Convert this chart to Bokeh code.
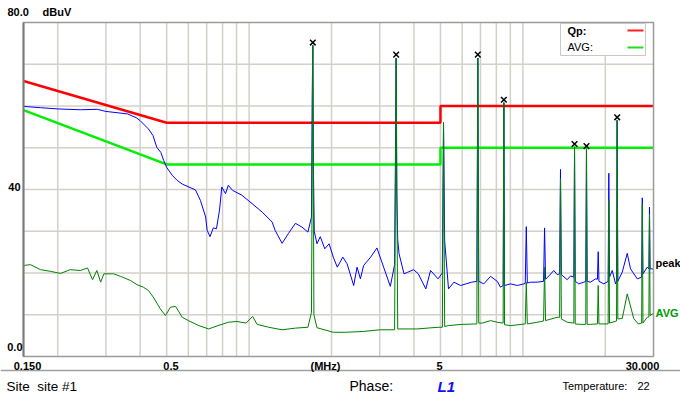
from bokeh.plotting import figure
from bokeh.models import Label
from bokeh.embed import file_html
from bokeh.resources import INLINE

# ---------------- data ----------------
peak_freq = [0.150, 0.173, 0.200, 0.242, 0.279, 0.300, 0.360, 0.387, 0.400, 0.429,
             0.446, 0.460, 0.476, 0.488, 0.500, 0.524, 0.546, 0.570, 0.637, 0.664,
             0.694, 0.703, 0.720, 0.740, 0.760, 0.780, 0.795, 0.820, 0.840, 0.870,
             0.943, 1.026, 1.116, 1.214, 1.245, 1.320, 1.390, 1.476, 1.560, 1.640,
             1.690, 1.700, 1.709, 1.718, 1.730, 1.770, 1.820, 1.890, 1.960, 2.030,
             2.100, 2.200, 2.280, 2.410, 2.480, 2.550, 2.620, 2.780, 2.930, 3.100,
             3.280, 3.400, 3.430, 3.445, 3.460, 3.490, 3.530, 3.680, 3.800, 3.990,
             4.150, 4.420, 4.600, 4.900, 5.080, 5.130, 5.180, 5.350, 5.600, 5.920,
             6.200, 6.500, 6.790, 6.845, 6.900, 7.200, 7.620, 8.060, 8.280, 8.470,
             8.520, 8.570, 9.010, 9.540, 10.08, 10.20, 10.29, 10.38, 10.66, 11.28,
             11.90, 12.00, 12.10, 12.44, 12.97, 13.35, 13.62, 13.72, 13.82, 14.52,
             14.93, 15.35, 15.44, 15.53, 16.00, 16.70, 16.97, 17.07, 17.17, 17.66,
             18.42, 18.72, 18.84, 18.96, 19.76, 20.48, 20.60, 20.72, 21.20, 21.80,
             21.98, 22.10, 22.22, 23.06, 24.05, 24.72, 26.16, 27.15, 27.30, 27.45,
             28.45, 28.85, 29.00, 29.15, 29.67, 30.00]
peak_level = [59.9, 59.6, 59.3, 59.1, 59.2, 58.7, 58.1, 57.2, 56.5, 54.5,
              52.9, 50.1, 48.9, 46.9, 45.3, 43.4, 42.2, 41.3, 39.9, 37.4,
              33.4, 30.2, 28.7, 30.8, 30.6, 35.1, 40.6, 39.0, 41.0, 39.8,
              38.6, 36.6, 34.6, 32.2, 30.2, 27.1, 29.4, 31.9, 31.0, 29.8,
              33.4, 62.0, 74.5, 45.0, 30.0, 27.0, 28.7, 25.8, 27.0, 23.8,
              21.4, 23.8, 22.2, 17.0, 21.4, 18.6, 21.8, 23.8, 26.0, 21.4,
              16.8, 22.0, 55.0, 71.5, 40.0, 28.0, 24.6, 19.8, 20.2, 20.8,
              19.8, 16.2, 20.6, 18.6, 20.0, 56.0, 27.7, 16.2, 17.8, 17.0,
              17.4, 17.8, 18.0, 71.5, 18.0, 17.4, 19.2, 18.0, 16.6, 17.0,
              60.8, 17.0, 17.4, 17.0, 17.4, 17.5, 31.1, 17.6, 17.8, 17.8,
              18.0, 30.8, 18.5, 19.3, 20.6, 19.6, 19.8, 44.8, 19.6, 18.4,
              19.3, 19.0, 50.2, 18.0, 17.4, 17.8, 18.0, 49.7, 18.0, 17.8,
              18.6, 18.5, 25.1, 18.0, 17.4, 18.0, 43.9, 19.0, 20.6, 17.4,
              18.0, 56.6, 18.0, 20.2, 24.7, 21.0, 18.6, 19.0, 38.0, 19.8,
              21.4, 21.0, 35.8, 21.0, 21.0, 20.8]

avg_freq = [0.150, 0.159, 0.173, 0.188, 0.205, 0.222, 0.242, 0.257, 0.268, 0.278,
            0.287, 0.295, 0.320, 0.339, 0.369, 0.390, 0.411, 0.429, 0.447, 0.474,
            0.495, 0.516, 0.539, 0.570, 0.600, 0.655, 0.712, 0.770, 0.840, 0.900,
            0.975, 1.030, 1.070, 1.180, 1.320, 1.476, 1.640, 1.690, 1.709, 1.725,
            1.770, 2.030, 2.250, 2.620, 3.000, 3.400, 3.445, 3.490, 4.100, 4.900,
            5.080, 5.130, 5.180, 5.350, 6.000, 6.790, 6.845, 6.900, 7.100, 7.620,
            8.060, 8.470, 8.520, 8.570, 9.010, 10.20, 10.29, 10.38, 11.28, 11.90,
            12.00, 12.10, 13.35, 13.62, 13.72, 13.82, 14.52, 15.35, 15.44, 15.53,
            16.20, 16.97, 17.07, 17.17, 17.66, 18.72, 18.84, 18.96, 19.76, 20.48,
            20.60, 20.72, 21.98, 22.10, 22.22, 23.06, 24.05, 25.40, 26.40, 27.15,
            27.30, 27.45, 28.45, 28.85, 29.00, 29.15, 29.67, 30.00]
avg_level = [21.8, 22.0, 20.8, 20.4, 19.9, 20.8, 20.6, 21.2, 18.4, 20.6,
             17.8, 19.8, 19.8, 19.2, 18.2, 17.2, 16.6, 15.8, 14.2, 11.4,
             9.8, 11.8, 12.0, 9.4, 8.6, 7.4, 6.6, 7.4, 8.2, 8.4,
             8.0, 9.6, 7.7, 7.0, 6.4, 6.8, 7.0, 10.6, 74.5, 10.0,
             6.9, 5.8, 5.8, 6.0, 6.4, 6.4, 71.5, 6.6, 6.6, 7.0,
             7.0, 56.0, 7.2, 7.4, 7.7, 7.8, 71.5, 8.0, 8.0, 8.6,
             8.2, 8.0, 60.8, 7.6, 7.4, 7.8, 17.8, 7.8, 8.2, 8.5,
             21.4, 8.6, 9.4, 9.4, 42.6, 9.0, 8.2, 8.0, 50.2, 7.8,
             7.7, 7.7, 49.7, 7.7, 7.7, 7.8, 17.0, 7.8, 7.8, 7.8,
             37.4, 8.0, 8.5, 56.6, 9.0, 9.1, 15.0, 9.1, 7.8, 8.0,
             36.6, 8.0, 9.4, 9.5, 34.0, 9.8, 10.2, 10.2]

qp_limit_freq = [0.15, 0.5, 5.0, 5.0, 30.0]
qp_limit_level = [66.0, 56.0, 56.0, 60.0, 60.0]
avg_limit_freq = [0.15, 0.5, 5.0, 5.0, 30.0]
avg_limit_level = [59.0, 46.0, 46.0, 50.0, 50.0]

marker_freq = [1.709, 3.445, 6.845, 8.52, 15.44, 17.07, 22.1]
marker_level = [75.2, 72.3, 72.3, 61.5, 50.9, 50.4, 57.3]

x_min, x_max = 0.15, 30.0
y_min, y_max = 0.0, 80.0
x_grid_ticks = [0.2, 0.3, 0.4, 0.5, 0.6, 0.7, 0.8, 0.9, 1, 2, 3, 4, 5, 6, 7, 8, 9, 10, 20]
y_grid_ticks = [10, 20, 30, 40, 50, 60, 70]

FONT = "Liberation Sans"

# frame covers the whole canvas; ranges are widened so that the plot box
# (0.15..30 MHz, 0..80 dBuV) sits where it sits in the reference
p = figure(width=680, height=395, x_axis_type="log",
           x_range=(0.12362, 37.64), y_range=(-9.341, 85.27),
           x_axis_location=None, y_axis_location=None,
           output_backend="svg", toolbar_location=None,
           min_border=0, outline_line_color=None,
           background_fill_color="white", border_fill_color="white")
p.grid.visible = False

# grid
p.segment(x0=x_grid_ticks, y0=[y_min] * len(x_grid_ticks), x1=x_grid_ticks,
          y1=[y_max] * len(x_grid_ticks), line_color="#d4d0c8", line_width=1.5)
p.segment(x0=[x_min] * len(y_grid_ticks), y0=y_grid_ticks, x1=[x_max] * len(y_grid_ticks),
          y1=y_grid_ticks, line_color="#d4d0c8", line_width=1.5)

# limits and traces
p.line(qp_limit_freq, qp_limit_level, line_color="#ff0000", line_width=2.5)
p.line(avg_limit_freq, avg_limit_level, line_color="#00ee00", line_width=2.5)
p.line(peak_freq, peak_level, line_color="#0000ff", line_width=1)
p.line(avg_freq, avg_level, line_color="#008000", line_width=1)
p.scatter(marker_freq, marker_level, marker="x", size=8, line_color="black", line_width=1.5)

# plot box border (left edge darker, as in the reference)
p.quad(left=[x_min], right=[x_max], bottom=[y_min], top=[y_max], fill_color=None,
       line_color="#9a9a9a", line_width=1.5)
p.segment(x0=[x_min], y0=[y_min], x1=[x_min], y1=[y_max], line_color="#7a7a7a", line_width=2)

# legend box
p.quad(left=[13.72], right=[28.04], bottom=[72.10], top=[79.76], fill_color="white",
       line_color="#c8c8c8", line_width=1)
p.segment(x0=[24.1], y0=[78.08], x1=[27.57], y1=[78.08], line_color="#ff2020", line_width=2)
p.segment(x0=[24.1], y0=[74.0], x1=[27.57], y1=[74.0], line_color="#20dd20", line_width=2)

# footer separator
p.segment(x0=[0.12362], y0=[-3.35], x1=[37.64], y1=[-3.35], line_color="#a0a0a0", line_width=1.5)


def lab(text, xo, y, align="left", size="11px", style="bold", color="black"):
    # x given as pixel offset from the 0.15 MHz edge of the plot box
    p.add_layout(Label(x=x_min, y=y, x_offset=xo, text=text, text_align=align,
                       text_baseline="middle", text_font=FONT, text_font_size=size,
                       text_font_style=style, text_color=color))


# y labels
lab("80.0", -16, 82.4)
lab("dBuV", 19, 82.4)
lab("40", -3, 40.48, align="right")
lab("0.0", -1, 2.16, align="right")

# x labels
lab("0.150", 4, -2.28, align="center")
lab("0.5", 147.5, -2.28, align="center")
lab("(MHz)", 302, -2.28, align="center")
lab("5", 416, -2.28, align="center")
lab("30.000", 619, -2.28, align="center")

# trace labels at right
lab("peak", 632, 22.28)
lab("AVG", 632, 10.3, color="#009900")

# legend texts
lab("Qp:", 544, 78.08)
lab("AVG:", 544, 74.13, style="normal")

# footer
lab("Site\u00a0 site #1", -17, -7.07, size="13.5px", style="normal")
lab("Phase:", 326, -7.07, size="14px", style="normal")
lab("L1", 414, -7.07, size="15px", style="bold italic", color="#1010ff")
lab("Temperature:", 539, -7.07, size="11px", style="normal")
lab("22", 614, -7.07, size="11px", style="normal")

open("out.html", "w").write(file_html(p, INLINE))
